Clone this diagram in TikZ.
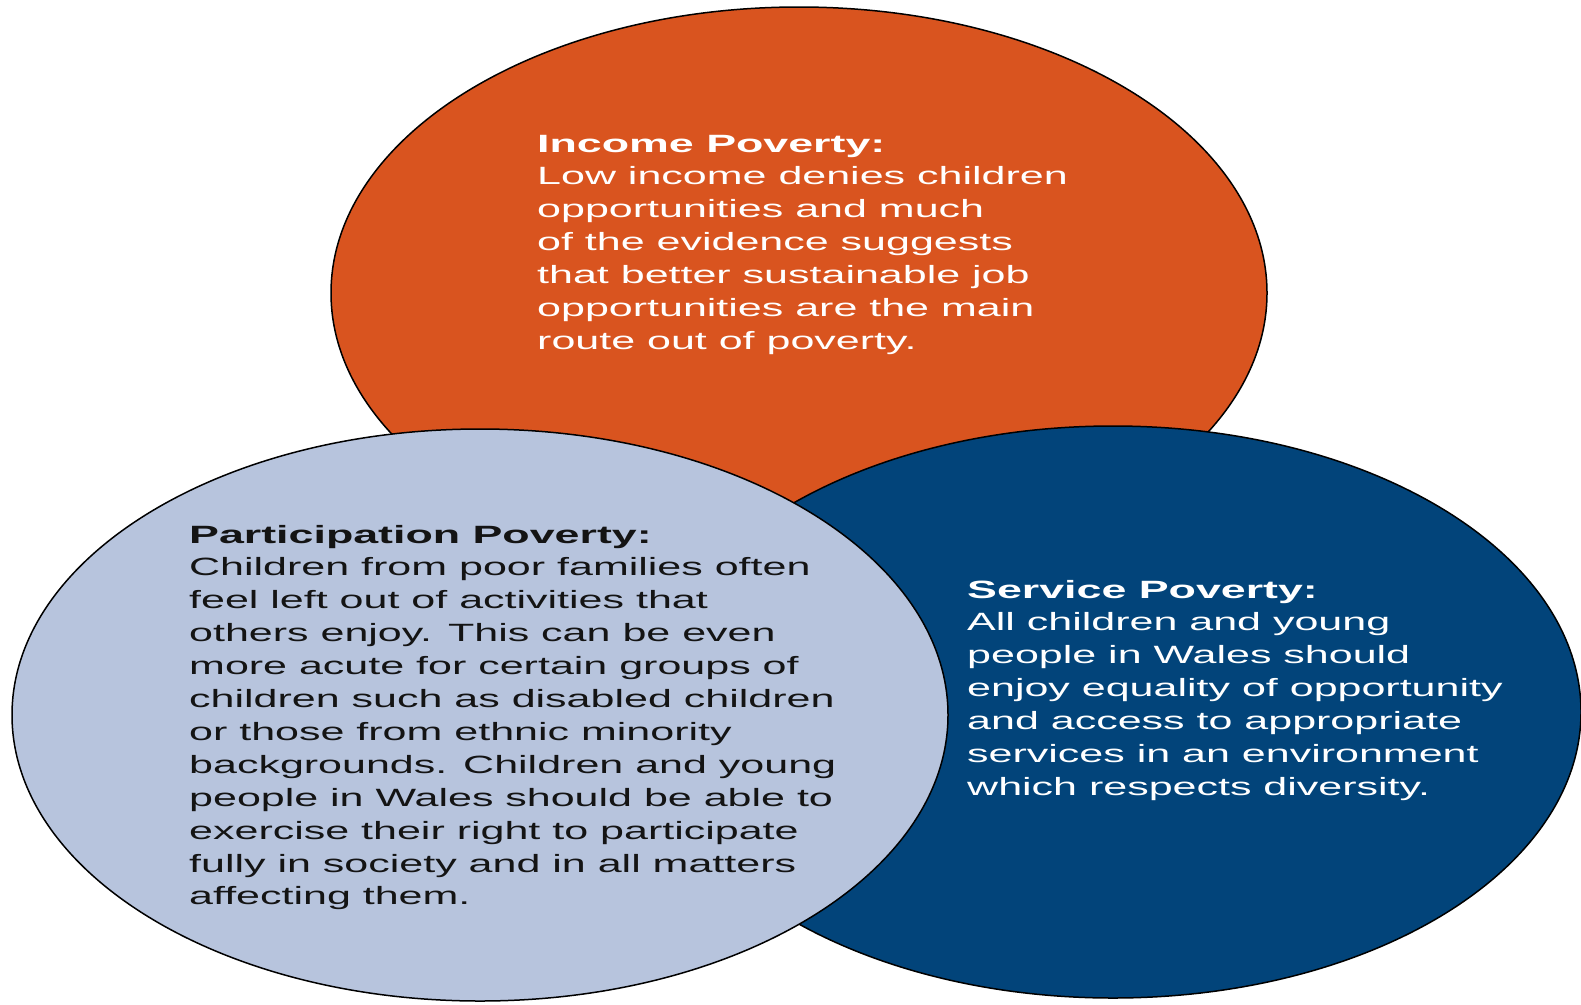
\documentclass[tikz,border=0pt]{standalone}
\usepackage{fontspec}
\setmainfont{Liberation Sans}[FakeStretch=1.72]
\newfontfamily\titlefont{Liberation Sans}[FakeStretch=1.79]
\usetikzlibrary{shapes.geometric}
\definecolor{incomeorange}{RGB}{217,84,31}
\definecolor{servicenavy}{RGB}{2,68,122}
\definecolor{partblue}{RGB}{183,196,221}
\definecolor{darktext}{RGB}{20,20,20}
\tikzset{
  bubble/.style={ellipse, draw=black, line width=1.5pt, minimum width=936pt, minimum height=572pt, inner sep=0pt},
  blurb/.style={anchor=base west, inner sep=0pt, font=\fontsize{25}{32.9}\selectfont},
}
\newcommand{\blurbhead}[1]{{\titlefont\bfseries #1}}
\begin{document}
\begin{tikzpicture}[x=1pt,y=-1pt]
\useasboundingbox (0,0) rectangle (1581,1004);
\clip (0,0) rectangle (1581,1004);
\node[bubble, fill=incomeorange] (income) at (799,293) {};
\node[bubble, fill=servicenavy] (service) at (1113,712) {};
\node[bubble, fill=partblue] (participation) at (480,715) {};
\node[blurb, text=white] (incometext) at (537,152) {\begin{tabular}[t]{@{}l@{}}
\blurbhead{Income Poverty:}\\
Low income denies children\\
opportunities and much\\
of the evidence suggests\\
that better sustainable job\\
opportunities are the main\\
route out of poverty.
\end{tabular}};
\node[blurb, text=darktext] (participationtext) at (189,543) {\begin{tabular}[t]{@{}l@{}}
\blurbhead{Participation Poverty:}\\
Children from poor families often\\
feel left out of activities that\\
others enjoy. This can be even\\
more acute for certain groups of\\
children such as disabled children\\
or those from ethnic minority\\
backgrounds. Children and young\\
people in Wales should be able to\\
exercise their right to participate\\
fully in society and in all matters\\
affecting them.
\end{tabular}};
\node[blurb, text=white] (servicetext) at (967,598) {\begin{tabular}[t]{@{}l@{}}
\blurbhead{Service Poverty:}\\
All children and young\\
people in Wales should\\
enjoy equality of opportunity\\
and access to appropriate\\
services in an environment\\
which respects diversity.
\end{tabular}};
\end{tikzpicture}
\end{document}
